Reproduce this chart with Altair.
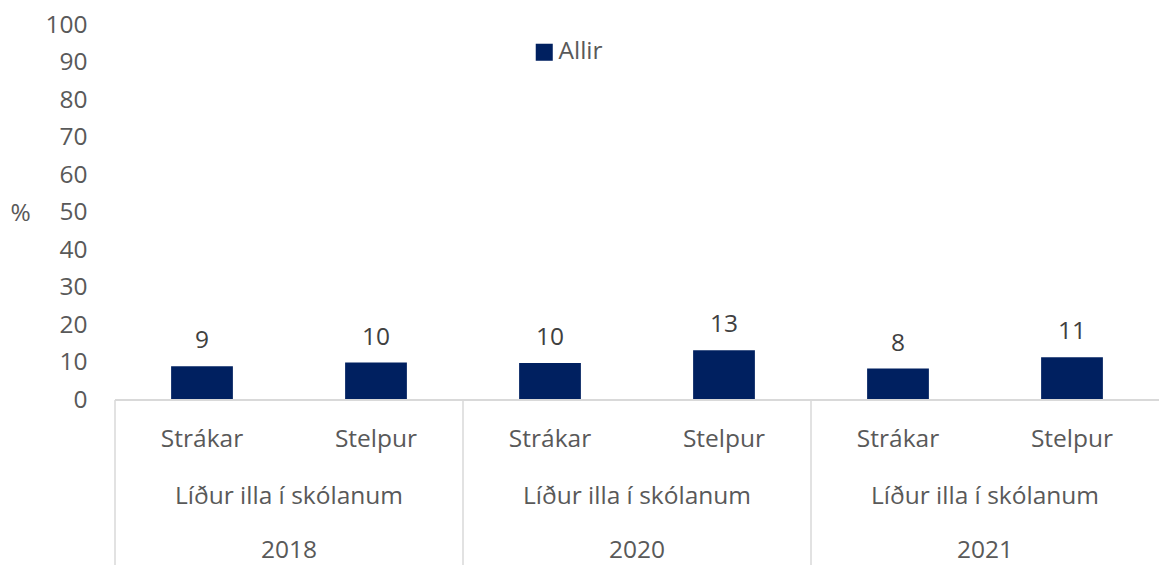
import altair as alt
import pandas as pd

years = ["2018", "2018", "2020", "2020", "2021", "2021"]
genders = ["Strákar", "Stelpur", "Strákar", "Stelpur", "Strákar", "Stelpur"]
values = [9.0, 10.0, 9.9, 13.3, 8.4, 11.4]
value_labels = ["9", "10", "10", "13", "8", "11"]
series_name = "Allir"
group_years = ["2018", "2020", "2021"]
group_label = "Líður illa í skólanum"
y_ticks = [0, 10, 20, 30, 40, 50, 60, 70, 80, 90, 100]

keys = [f"{y}-{g}" for y, g in zip(years, genders)]
df = pd.DataFrame({"key": keys, "year": years, "gender": genders,
                   "value": values, "label": value_labels, "series": series_name})
groups = pd.DataFrame({
    "year": group_years,
    "first": [f"{y}-Strákar" for y in group_years],
    "second": [f"{y}-Stelpur" for y in group_years],
    "label": group_label,
})

FONT = "Open Sans"
FS = 24.5
xscale = alt.Scale(domain=keys, paddingInner=0, paddingOuter=0)
x_enc = alt.X("key:N", scale=xscale, axis=None)
yscale = alt.Scale(domain=[0, 100])
y_plain = alt.Y("value:Q", scale=yscale, axis=None)

bars = alt.Chart(df).mark_bar(color="#002060", width=alt.RelativeBandSize(0.355)).encode(
    x=x_enc,
    y=alt.Y("value:Q", scale=yscale,
            axis=alt.Axis(values=y_ticks, grid=False, domain=False, ticks=False, tickSize=0,
                          labelOverlap=False, labelPadding=28, labelFontSize=FS,
                          labelColor="#595959", labelFont=FONT,
                          title="%", titleAngle=0, titleFontSize=FS, titleFontWeight="normal",
                          titleColor="#595959", titleFont=FONT, titleX=-95, titleY=188,
                          titleBaseline="middle", titleAlign="center")),
    color=alt.Color("series:N", scale=alt.Scale(range=["#002060"]),
                    legend=alt.Legend(title=None, orient="none", legendX=417, legendY=15,
                                      symbolType="square", symbolSize=290, symbolStrokeWidth=0,
                                      labelFontSize=FS, labelColor="#595959", labelFont=FONT,
                                      padding=0, labelOffset=2)),
)

value_text = alt.Chart(df).mark_text(baseline="bottom", dy=-13, fontSize=FS, color="#404040",
                                     font=FONT).encode(
    x=x_enc, y=y_plain, text="label:N")

baseline = alt.Chart(df).mark_rule(color="#d9d9d9", strokeWidth=1.5).encode(
    y=alt.datum(0, scale=yscale, axis=None))

sep = alt.Chart(groups).mark_rule(color="#d9d9d9", strokeWidth=1.5).encode(
    x=alt.X("first:N", scale=xscale, bandPosition=0, axis=None),
    y=alt.value(375), y2=alt.value(545))

gender_text = alt.Chart(df).mark_text(baseline="middle", fontSize=FS, color="#595959",
                                      font=FONT).encode(
    x=x_enc, y=alt.value(415), text="gender:N")

group_text = alt.Chart(groups).mark_text(baseline="middle", fontSize=FS, color="#595959",
                                         font=FONT).encode(
    x=alt.X("second:N", scale=xscale, bandPosition=0, axis=None),
    y=alt.value(472), text="label:N")

year_text = alt.Chart(groups).mark_text(baseline="middle", fontSize=FS, color="#595959",
                                        font=FONT).encode(
    x=alt.X("second:N", scale=xscale, bandPosition=0, axis=None),
    y=alt.value(526), text="year:N")

chart = alt.layer(bars, value_text, baseline, sep, gender_text, group_text, year_text).resolve_axis(
    y="independent", x="independent"
).properties(
    width=1044, height=375,
    autosize=alt.AutoSizeParams(type="none"),
    padding={"left": 107, "top": 17, "right": 0, "bottom": 165},
    background="white",
).configure_view(stroke=None)

chart.save("out.html", embed_options={"renderer": "svg", "actions": False})
